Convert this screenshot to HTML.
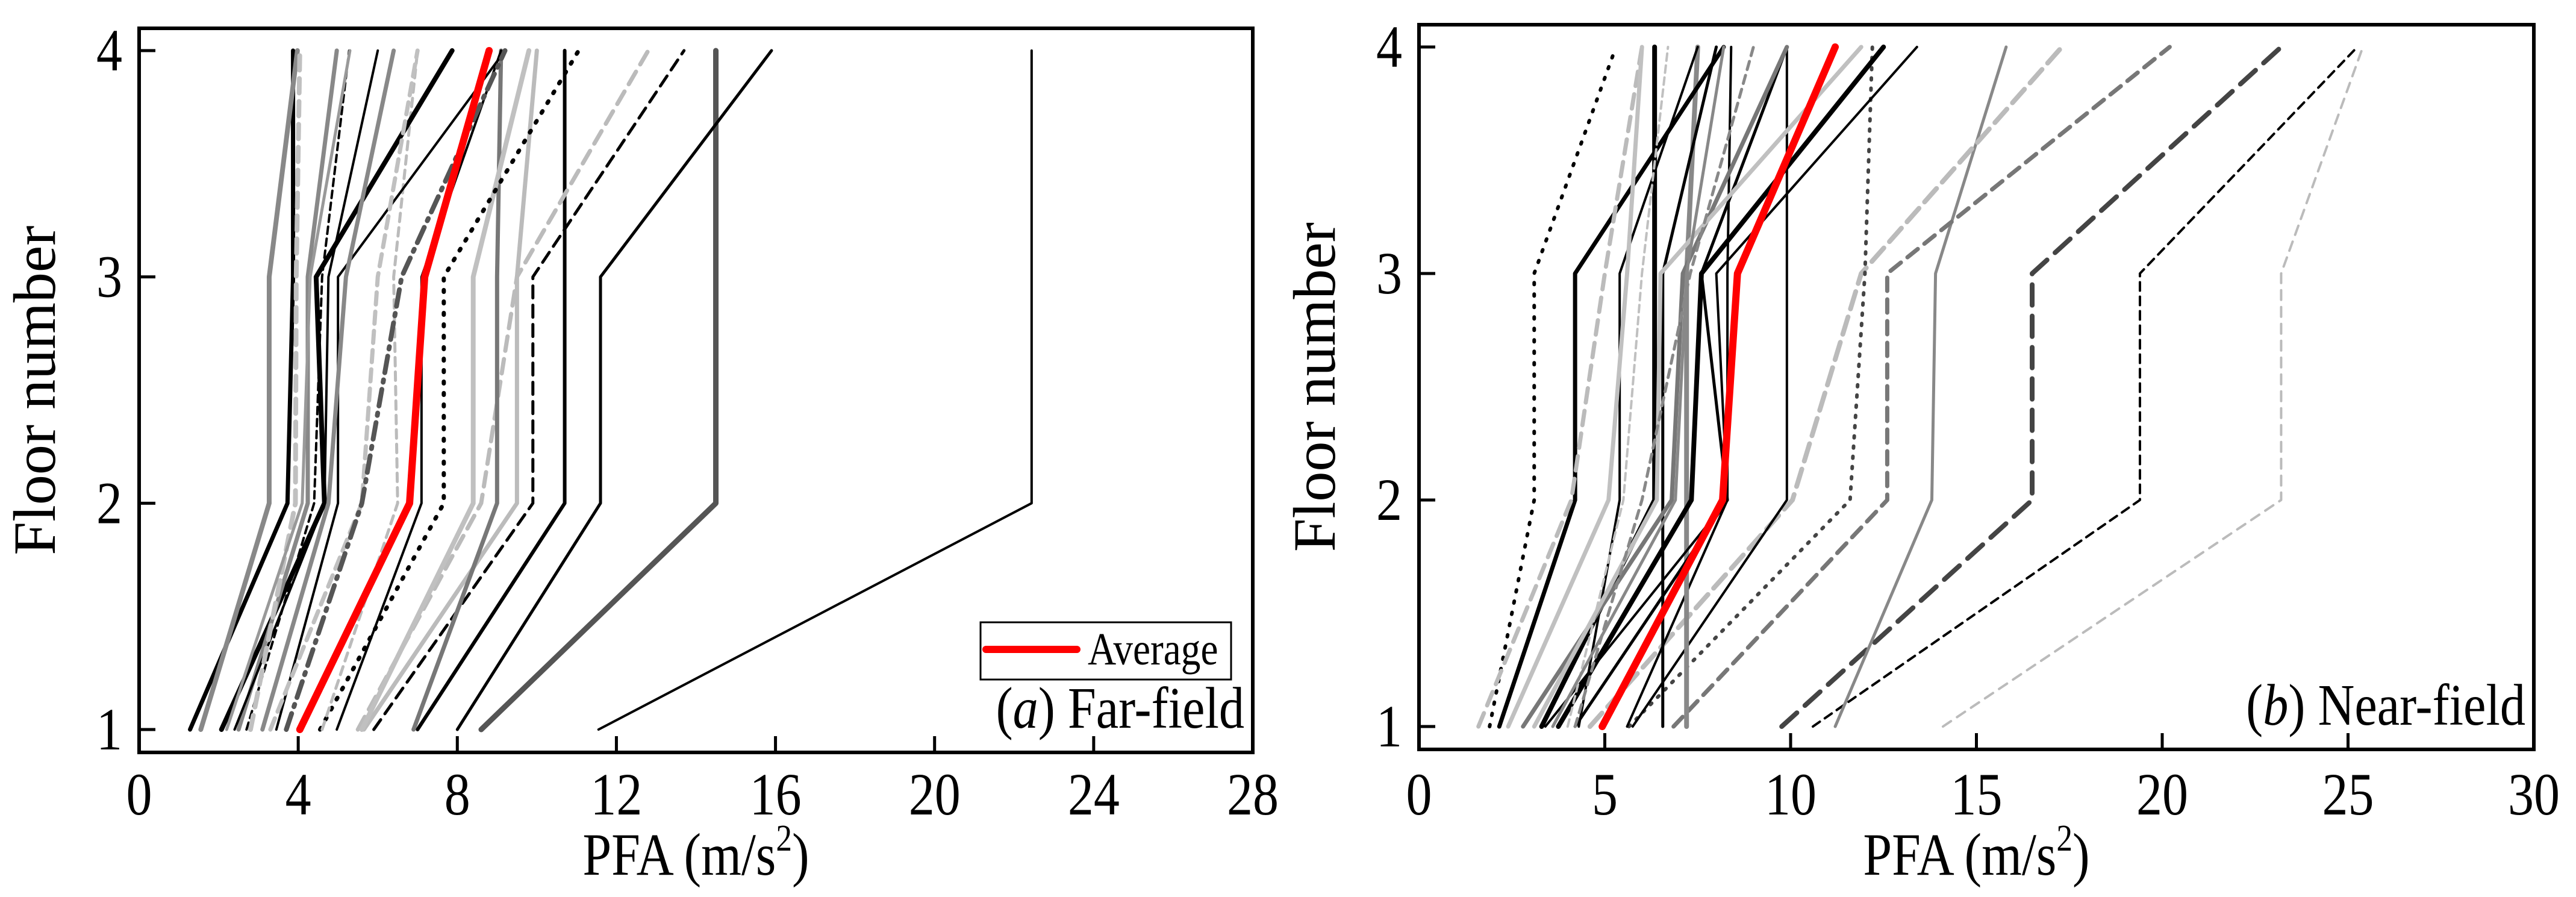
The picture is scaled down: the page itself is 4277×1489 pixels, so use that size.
<!DOCTYPE html>
<html><head><meta charset="utf-8"><style>
html,body{margin:0;padding:0;background:#fff}
svg text{font-family:"Liberation Serif",serif;fill:#000}
</style></head><body>
<svg id="fig" width="4277" height="1484" viewBox="0 0 4277 1484" xmlns="http://www.w3.org/2000/svg"></svg>
<script>
const floors=[1,2,3,4];
const farTicks=[0,4,8,12,16,20,24,28];
const nearTicks=[0,5,10,15,20,25,30];
const floorTicks=[1,2,3,4];
// far-field records: values at floors 1..4
const farSeries=[
[11.55,22.44,22.44,22.44],[8.6,14.5,14.5,14.5],[8.0,11.6,11.6,15.9],[7.0,10.7,10.7,10.7],
[5.9,9.9,9.9,13.7],[5.5,8.6,9.5,12.8],[5.65,9.5,9.5,10.0],[6.9,9.0,9.0,9.1],
[5.6,8.4,8.4,9.8],[4.55,7.66,7.66,11.05],[4.97,7.1,7.1,9.1],[4.6,6.5,6.4,7.0],
[3.45,5.0,5.0,9.2],[2.07,4.66,4.45,7.87],[1.28,3.73,3.87,3.87],[1.55,3.27,3.27,3.98],
[2.5,4.24,4.24,4.97],[2.4,4.66,4.76,6.0],[2.7,4.4,4.6,5.28],[2.8,3.93,3.95,4.04],
[3.1,4.76,5.2,6.4],[3.3,5.6,6.0,7.0],[3.7,5.6,6.6,9.2],[2.2,4.1,4.3,5.3]];
const farStyles=[
["#000",4,""],["#555",9,""],["#000",5,""],["#000",6,""],
["#000",5,"20,12"],["#bbb",7,"24,14"],["#bbb",7,""],["#777",7,""],
["#c0c0c0",8,""],["#000",7,"3,16"],["#000",4,""],["#bbb",5,"14,10"],
["#000",4,""],["#000",8,""],["#000",7,""],["#888",8,""],
["#888",7,""],["#000",4,""],["#000",4,"12,8"],["#c0c0c0",8,"24,14"],
["#888",7,""],["#c0c0c0",7,"20,12"],["#555",8,"28,12,4,12"],["#999",5,""]];
const farAverage=[4.04,6.8,7.18,8.8];
// near-field records
const nearSeries=[
[14.1,23.2,23.2,25.4],[10.6,19.4,19.4,25.25],[9.76,16.5,16.5,23.2],[11.2,13.8,13.9,15.8],
[6.85,12.6,12.6,20.2],[4.6,10.05,11.9,17.3],[5.65,11.6,12.0,12.2],[5.75,9.9,9.9,9.9],
[5.6,8.3,8.3,8.4],[7.2,7.2,7.2,7.5],[6.56,6.56,6.56,8.0],[3.3,6.34,6.34,6.34],
[3.75,7.33,7.6,12.5],[4.2,8.3,7.6,9.9],[2.16,4.2,4.2,8.2],[4.3,5.4,5.4,7.5],
[3.4,8.3,8.0,13.4],[1.9,3.1,3.1,5.3],[1.6,4.1,5.0,6.0],[2.4,5.1,5.6,6.0],
[2.8,6.8,7.1,9.9],[3.1,6.4,6.5,11.9],[4.2,6.0,7.3,9.0],[4.0,5.5,6.0,6.7],[3.6,6.9,7.2,8.2]];
const nearStyles=[
["#bbb",4,"16,12"],["#000",4,"14,10"],["#444",8,"34,18"],["#888",5,""],
["#777",7,"22,14"],["#bbb",8,"30,14"],["#444",6,"3,14"],["#000",4,""],
["#000",4,""],["#888",8,""],["#000",5,""],["#000",8,""],
["#000",8,""],["#000",5,""],["#000",7,""],["#000",4,""],
["#000",4,""],["#000",6,"3,16"],["#bbb",7,"24,14"],["#c0c0c0",7,""],
["#777",7,""],["#c0c0c0",7,""],["#888",5,"14,10"],["#c0c0c0",4,"12,8"],["#888",5,""]];
const nearAverage=[4.93,8.17,8.57,11.2];

const NS="http://www.w3.org/2000/svg";
const svg=document.getElementById('fig');
function mk(tag,attrs,parent){const e=document.createElementNS(NS,tag);for(const k in attrs)e.setAttribute(k,attrs[k]);(parent||svg).appendChild(e);return e;}
// condensed text: font scaled horizontally by 0.86
function txt(parent,x,y,size,anchor,extra){const a={x:0,y:0,'font-size':size,'text-anchor':anchor,transform:'translate('+x+','+y+') scale(0.86,1)'};if(extra)for(const k in extra)a[k]=extra[k];return mk('text',a,parent);}

function panel(cfg){
  const g=mk('g',{});
  
  
  const xs=v=>cfg.x0+(v-cfg.xmin)/(cfg.xmax-cfg.xmin)*(cfg.x1-cfg.x0);
  const ys=f=>cfg.yf1+(f-1)/3*(cfg.yf4-cfg.yf1);
  const lines=mk('g',{},g);
  
  
  cfg.series.forEach((s,i)=>{
    const st=cfg.styles[i%cfg.styles.length];
    const p=mk('polyline',{points:s.map((v,j)=>xs(v)+','+ys(floors[j])).join(' '),fill:'none',stroke:st[0],'stroke-width':st[1],'stroke-dasharray':st[2],'stroke-linecap':'round','stroke-linejoin':'round'},lines);
    
    
  });
  const av=mk('polyline',{points:cfg.avg.map((v,j)=>xs(v)+','+ys(floors[j])).join(' '),fill:'none',stroke:'#ff0000','stroke-width':12,'stroke-linecap':'round','stroke-linejoin':'round'},g);
  
  
  const fr=mk('rect',{x:cfg.x0,y:cfg.top,width:cfg.x1-cfg.x0,height:cfg.bottom-cfg.top,fill:'none',stroke:'#000','stroke-width':6},g);
  
  
  cfg.xticks.forEach(t=>{
    const x=xs(t);
    const l=mk('line',{x1:x,x2:x,y1:cfg.bottom,y2:cfg.bottom-27,stroke:'#000','stroke-width':5},g);
    
    
    const tx=txt(g,x,1352,100,'middle');
    tx.textContent=t;
    
    
  });
  floorTicks.forEach(t=>{
    const y=ys(t);
    const l=mk('line',{x1:cfg.x0,x2:cfg.x0+27,y1:y,y2:y,stroke:'#000','stroke-width':5},g);
    
    
    const tx=txt(g,cfg.x0-28,y+33,100,'end');
    tx.textContent=t;
    
    
  });
  const xt=txt(g,(cfg.x0+cfg.x1)/2,1452,100,'middle');
  xt.innerHTML='PFA (m/s<tspan font-size="62" dy="-40">2</tspan><tspan dy="40">)</tspan>';
  
  
  const yt=mk('text',{x:0,y:0,'font-size':100,'text-anchor':'middle',transform:'translate('+(cfg.x0-140)+','+((cfg.top+cfg.bottom)/2)+') rotate(-90)'},g);
  yt.textContent='Floor number';
  
  
  const lab=txt(g,cfg.x1-14,cfg.labelY,98,'end');
  lab.innerHTML='(<tspan font-style="italic">'+cfg.letter+'</tspan>) '+cfg.label;
  
  
  return g;
}
panel({name:'far-field-panel',x0:231,x1:2080,top:47,bottom:1249,yf4:84,yf1:1211,xmin:0,xmax:28,xticks:farTicks,series:farSeries,styles:farStyles,avg:farAverage,letter:'a',label:'Far-field',labelY:1208});
panel({name:'near-field-panel',x0:2356,x1:4207,top:41,bottom:1244,yf4:78,yf1:1206,xmin:0,xmax:30,xticks:nearTicks,series:nearSeries,styles:nearStyles,avg:nearAverage,letter:'b',label:'Near-field',labelY:1203});

const lg=mk('g',{});


const lb=mk('rect',{x:1628,y:1033,width:416,height:95,fill:'#fff',stroke:'#000','stroke-width':3},lg);


const ll=mk('line',{x1:1637,x2:1788,y1:1078,y2:1078,stroke:'#ff0000','stroke-width':12,'stroke-linecap':'round'},lg);


const lt=txt(lg,1806,1103,76,'start');
lt.textContent='Average';


</script>
</body></html>
